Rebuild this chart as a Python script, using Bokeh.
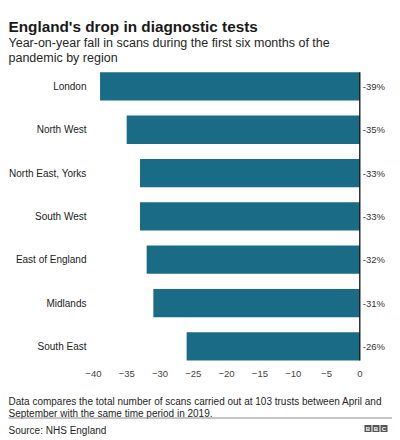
from bokeh.plotting import figure
from bokeh.models import Range1d, FixedTicker
from bokeh.core.properties import value
from bokeh.embed import file_html
from bokeh.resources import INLINE

# ---- data ----
regions = ["London", "North West", "North East, Yorks", "South West",
           "East of England", "Midlands", "South East"]
change = [-39, -35, -33, -33, -32, -31, -26]
value_labels = [f"{v}%" for v in change]
x_ticks = [-40, -35, -30, -25, -20, -15, -10, -5, 0]
x_tick_labels = ["\u221240", "\u221235", "\u221230", "\u221225", "\u221220",
                 "\u221215", "\u221210", "\u22125", "0"]

title_text = "England's drop in diagnostic tests"
subtitle_lines = ["Year-on-year fall in scans during the first six months of the",
                  "pandemic by region"]
note_lines = ["Data compares the total number of scans carried out at 103 trusts between April and",
              "September with the same time period in 2019."]
source_text = "Source: NHS England"
logo_letters = ["B", "B", "C"]

# ---- layout constants (pixels) ----
FONT = value("Liberation Sans")
BAR = "#1a6b85"
W, H = 400, 440
ZERO_PX, PX_PER_UNIT = 359.3, 6.66      # horizontal scale anchor
FIRST_PX, PITCH = 85.9, 43.33           # vertical scale anchor (row centres)


def dx(px):
    return (px - ZERO_PX) / PX_PER_UNIT


def dy(py):
    return (py - FIRST_PX) / PITCH


idx = list(range(len(regions)))
p = figure(width=W, height=H, x_range=Range1d(dx(0), dx(W)), y_range=Range1d(dy(H), dy(0)),
           output_backend="svg", toolbar_location=None, min_border=0)
p.grid.visible = False
p.outline_line_color = None
p.background_fill_color = "white"
p.border_fill_color = "white"

# bars, zero line, value labels
bar_h = 28.3 / PITCH
p.hbar(y=idx, left=0, right=change, height=bar_h, fill_color=BAR, line_color=None)
p.segment(x0=[0], y0=[idx[0] - bar_h / 2], x1=[0], y1=[idx[-1] + bar_h / 2],
          line_color="#111111", line_width=1.3)
p.text(x=[0] * len(idx), y=idx, text=value_labels, x_offset=3, text_font=FONT,
       text_font_size="9.5px", text_color="#333333", text_align="left",
       text_baseline="middle")

# axes drawn at fixed locations inside the full-canvas frame
xa = p.xaxis[0]
xa.fixed_location = dy(367.5)
xa.ticker = FixedTicker(ticks=x_ticks)
xa.major_label_overrides = {t: l for t, l in zip(x_ticks, x_tick_labels)}
xa.axis_line_color = None
xa.major_tick_line_color = None
xa.minor_tick_line_color = None
xa.major_tick_out = 0
xa.major_tick_in = 0
xa.minor_tick_out = 0
xa.major_label_standoff = 3
xa.major_label_text_font = "Liberation Sans"
xa.major_label_text_font_size = "9.5px"
xa.major_label_text_color = "#444444"

ya = p.yaxis[0]
ya.fixed_location = dx(92)
ya.ticker = FixedTicker(ticks=idx)
ya.major_label_overrides = {i: r for i, r in zip(idx, regions)}
ya.axis_line_color = None
ya.major_tick_line_color = None
ya.minor_tick_line_color = None
ya.major_tick_out = 0
ya.major_tick_in = 0
ya.minor_tick_out = 0
ya.major_label_standoff = 6
ya.major_label_text_font = "Liberation Sans"
ya.major_label_text_font_size = "10px"
ya.major_label_text_color = "#222222"

# header
p.text(x=[dx(8)], y=[dy(25.8)], text=[title_text], text_font=FONT, text_font_size="15.3px",
       text_font_style="bold", text_color="#1a1a1a", text_baseline="alphabetic")
p.text(x=[dx(8)] * 2, y=[dy(42.0), dy(57.5)], text=subtitle_lines, text_font=FONT,
       text_font_size="12.5px", text_color="#262626", text_baseline="alphabetic")

# footer
p.text(x=[dx(8)] * 2, y=[dy(401.0), dy(413.0)], text=note_lines, text_font=FONT,
       text_font_size="10px", text_color="#262626", text_baseline="alphabetic")
p.segment(x0=[dx(8)], y0=[dy(417.5)], x1=[dx(391.5)], y1=[dy(417.5)],
          line_color="#8c8c8c", line_width=1)
p.text(x=[dx(8)], y=[dy(430.0)], text=[source_text], text_font=FONT,
       text_font_size="10px", text_color="#262626", text_baseline="alphabetic")
logo_x = [dx(367.5), dx(375.5), dx(383.5)]
p.rect(x=logo_x, y=[dy(428)] * 3, width=7, height=7, width_units="screen",
       height_units="screen", fill_color="#555555", line_color=None)
p.text(x=logo_x, y=[dy(428.3)] * 3, text=logo_letters, text_font=FONT,
       text_font_size="6px", text_font_style="bold", text_color="white",
       text_align="center", text_baseline="middle")

open("out.html", "w").write(file_html(p, INLINE))
